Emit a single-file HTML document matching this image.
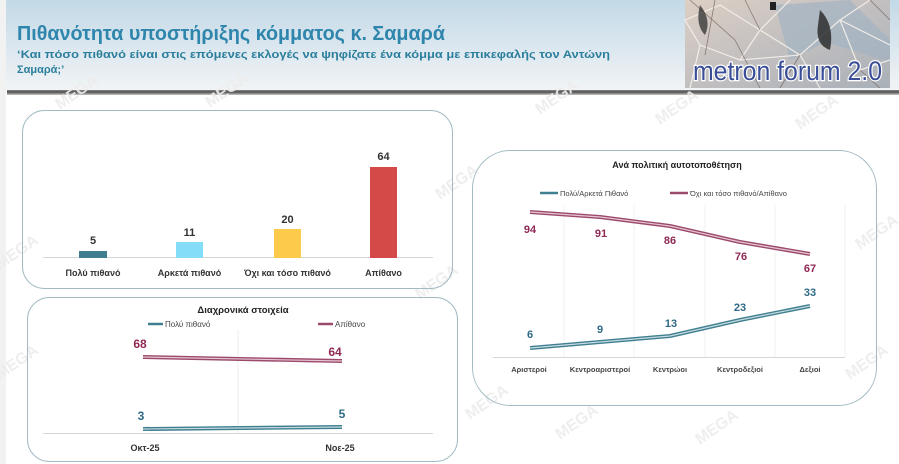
<!DOCTYPE html>
<html><head><meta charset="utf-8"><style>
html,body{margin:0;padding:0;background:#fff;}
svg{display:block;}
text{font-family:"Liberation Sans","DejaVu Sans",sans-serif;}
</style></head><body>
<svg width="899" height="464" viewBox="0 0 899 464" xmlns="http://www.w3.org/2000/svg">
<defs>
<linearGradient id="hdr" x1="0" y1="0" x2="0" y2="1">
<stop offset="0" stop-color="#c3d9e7"/>
<stop offset="0.6" stop-color="#dfe9f0"/>
<stop offset="1" stop-color="#f1f4f6"/>
</linearGradient>
<linearGradient id="logo" x1="0" y1="0" x2="1" y2="1">
<stop offset="0" stop-color="#dccfc4"/>
<stop offset="0.5" stop-color="#c2bfc0"/>
<stop offset="1" stop-color="#a9b0b8"/>
</linearGradient>
<linearGradient id="sep" x1="0" y1="0" x2="0" y2="1">
<stop offset="0" stop-color="#8a8a8a"/>
<stop offset="0.4" stop-color="#505050"/>
<stop offset="1" stop-color="#c8c8c8"/>
</linearGradient>
</defs>
<rect x="0" y="0" width="899" height="464" fill="#fff"/>
<!-- header -->
<rect x="0" y="0" width="899" height="91" fill="url(#hdr)"/>
<rect x="0" y="0" width="6" height="464" fill="#f2f2f2"/>
<text x="17" y="40" font-size="20" font-weight="bold" fill="#2f86ad" textLength="428" lengthAdjust="spacingAndGlyphs">Πιθανότητα υποστήριξης κόμματος κ. Σαμαρά</text>
<text x="17" y="58" font-size="11" font-weight="bold" fill="#2b7f9c" textLength="593" lengthAdjust="spacingAndGlyphs">‘Και πόσο πιθανό είναι στις επόμενες εκλογές να ψηφίζατε ένα κόμμα με επικεφαλής τον Αντώνη</text>
<text x="17" y="73" font-size="11" font-weight="bold" fill="#2b7f9c">Σαμαρά;’</text>
<!-- logo -->
<rect x="685" y="0" width="205" height="88" fill="url(#logo)"/>
<path d="M775 5 L850 0 L890 40 L890 62 L825 42 L790 60 Z" fill="#a3b3c2" opacity="0.7"/>
<g stroke="#f6f1ea" stroke-width="1.2" fill="none" opacity="0.9">
<path d="M685 20 L720 5 L760 30 L740 60 L700 45 Z"/>
<path d="M760 30 L790 0 M760 30 L800 55 L840 20 L890 45"/>
<path d="M740 60 L800 55 L820 88 M700 45 L690 88"/>
<path d="M840 20 L870 0 M840 20 L860 70 L890 60"/>
</g>
<g stroke="#6a5a50" stroke-width="0.8" fill="none" opacity="0.7">
<path d="M690 0 L735 40 L760 88 M715 0 L705 55 M745 0 L760 30"/>
<path d="M800 55 L780 88 M860 70 L880 88 M870 0 L890 20"/>
</g>
<path d="M700 5 Q712 20 705 35 Q695 25 700 5Z" fill="#3a3a3a" opacity="0.8"/>
<path d="M820 10 Q835 25 830 50 Q815 45 818 25Z" fill="#2e2e2e" opacity="0.85"/>
<rect x="770" y="2" width="6" height="8" fill="#222"/>
<text x="693" y="80" font-size="27" fill="#3a4e98" stroke="#ffffff" stroke-width="2.5" paint-order="stroke" textLength="189" lengthAdjust="spacingAndGlyphs">metron forum 2.0</text>
<!-- separator -->
<rect x="7" y="90" width="892" height="5" fill="url(#sep)"/>
<!-- watermarks -->
<g font-size="16" font-weight="bold" fill="#ececec" opacity="0.9">
<text transform="translate(60,110) rotate(-35)">MEGA</text>
<text transform="translate(210,108) rotate(-35)">MEGA</text>
<text transform="translate(540,115) rotate(-35)">MEGA</text>
<text transform="translate(660,125) rotate(-35)">MEGA</text>
<text transform="translate(800,130) rotate(-35)">MEGA</text>
<text transform="translate(860,250) rotate(-35)">MEGA</text>
<text transform="translate(850,380) rotate(-35)">MEGA</text>
<text transform="translate(420,300) rotate(-35)">MEGA</text>
<text transform="translate(440,200) rotate(-35)">MEGA</text>
<text transform="translate(560,440) rotate(-35)">MEGA</text>
<text transform="translate(700,445) rotate(-35)">MEGA</text>
<text transform="translate(0,270) rotate(-35)">MEGA</text>
<text transform="translate(0,380) rotate(-35)">MEGA</text>
<text transform="translate(470,420) rotate(-35)">MEGA</text>
</g>
<!-- box 1 -->
<rect x="22.5" y="110.5" width="430" height="178" rx="22" fill="none" stroke="#a2bac3" stroke-width="1"/>
<line x1="43" y1="257.5" x2="433" y2="257.5" stroke="#d6d6d6" stroke-width="1"/>
<rect x="79" y="251" width="28" height="7" fill="#3f7e8e"/>
<rect x="176" y="242" width="27" height="16" fill="#83dcf8"/>
<rect x="274" y="229" width="27" height="29" fill="#fdca4b"/>
<rect x="370" y="167" width="27" height="91" fill="#d44a48"/>
<g font-size="11" font-weight="bold" fill="#333" text-anchor="middle">
<text x="93" y="244">5</text>
<text x="189.5" y="236">11</text>
<text x="287.5" y="223">20</text>
<text x="383.5" y="160">64</text>
</g>
<g font-size="9" font-weight="bold" fill="#333" text-anchor="middle">
<text x="93" y="276">Πολύ πιθανό</text>
<text x="189.5" y="276">Αρκετά πιθανό</text>
<text x="287.5" y="276">Όχι και τόσο πιθανό</text>
<text x="383.5" y="276">Απίθανο</text>
</g>
<!-- box 2 -->
<rect x="27.5" y="297.5" width="430" height="164" rx="22" fill="none" stroke="#a2bac3" stroke-width="1"/>
<text x="243" y="313" font-size="9.5" font-weight="bold" fill="#222" text-anchor="middle">Διαχρονικά στοιχεία</text>
<line x1="148" y1="324" x2="163" y2="324" stroke="#3f7f90" stroke-width="2.5"/>
<text x="165" y="327" font-size="8" fill="#444">Πολύ πιθανό</text>
<line x1="318" y1="324" x2="333" y2="324" stroke="#9c4a6b" stroke-width="2.5"/>
<text x="335" y="327" font-size="8" fill="#444">Απίθανο</text>
<line x1="238" y1="330" x2="238" y2="433" stroke="#eeeeee" stroke-width="1"/>
<line x1="43" y1="433.5" x2="433" y2="433.5" stroke="#d6d6d6" stroke-width="1"/>
<line x1="143" y1="357" x2="342" y2="361" stroke="#9c4a6b" stroke-width="4"/>
<line x1="143" y1="357" x2="342" y2="361" stroke="#e6c6d2" stroke-width="1.2"/>
<line x1="143" y1="429" x2="342" y2="427" stroke="#3f7f90" stroke-width="4"/>
<line x1="143" y1="429" x2="342" y2="427" stroke="#c6dbe0" stroke-width="1.2"/>
<g font-size="12" font-weight="bold" text-anchor="middle">
<text x="140" y="348" fill="#8e2a55">68</text>
<text x="335" y="356" fill="#8e2a55">64</text>
<text x="141" y="420" fill="#2f6a86">3</text>
<text x="342" y="418" fill="#2f6a86">5</text>
</g>
<g font-size="9" font-weight="bold" fill="#333" text-anchor="middle">
<text x="145" y="451">Οκτ-25</text>
<text x="340" y="451">Νοε-25</text>
</g>
<!-- box 3 -->
<rect x="472.5" y="150.5" width="404" height="255" rx="38" fill="none" stroke="#a2bac3" stroke-width="1"/>
<text x="677" y="168" font-size="9" font-weight="bold" fill="#222" text-anchor="middle">Ανά πολιτική αυτοτοποθέτηση</text>
<line x1="540" y1="193" x2="558" y2="193" stroke="#3f7f90" stroke-width="2.5"/>
<text x="560" y="196" font-size="7.5" fill="#444">Πολύ/Αρκετά Πιθανό</text>
<line x1="670" y1="193" x2="688" y2="193" stroke="#9c4a6b" stroke-width="2.5"/>
<text x="690" y="196" font-size="7.5" fill="#444">Όχι και τόσο πιθανό/Απίθανο</text>
<g stroke="#f0f0f0" stroke-width="1">
<line x1="564" y1="205" x2="564" y2="357"/>
<line x1="634" y1="205" x2="634" y2="357"/>
<line x1="705" y1="205" x2="705" y2="357"/>
<line x1="775" y1="205" x2="775" y2="357"/>
<line x1="845" y1="205" x2="845" y2="357"/>
</g>
<line x1="493" y1="357.5" x2="845" y2="357.5" stroke="#d6d6d6" stroke-width="1"/>
<polyline points="530,212 600,217 670,226 740,242 810,254" fill="none" stroke="#9c4a6b" stroke-width="4" stroke-linejoin="round"/>
<polyline points="530,212 600,217 670,226 740,242 810,254" fill="none" stroke="#e6c6d2" stroke-width="1.2" stroke-linejoin="round"/>
<polyline points="530,348 600,342 670,336 740,320 810,306" fill="none" stroke="#3f7f90" stroke-width="4" stroke-linejoin="round"/>
<polyline points="530,348 600,342 670,336 740,320 810,306" fill="none" stroke="#c6dbe0" stroke-width="1.2" stroke-linejoin="round"/>
<g font-size="11" font-weight="bold" text-anchor="middle" fill="#8e2a55">
<text x="530" y="233">94</text>
<text x="601" y="237">91</text>
<text x="670" y="244">86</text>
<text x="741" y="260">76</text>
<text x="810" y="272">67</text>
</g>
<g font-size="11" font-weight="bold" text-anchor="middle" fill="#2f6a86">
<text x="530" y="338">6</text>
<text x="600" y="333">9</text>
<text x="671" y="327">13</text>
<text x="740" y="311">23</text>
<text x="810" y="296">33</text>
</g>
<g font-size="7.5" font-weight="bold" fill="#444" text-anchor="middle">
<text x="529" y="372">Αριστεροί</text>
<text x="600" y="372">Κεντροαριστεροί</text>
<text x="670" y="372">Κεντρώοι</text>
<text x="740" y="372">Κεντροδεξιοί</text>
<text x="810" y="372">Δεξιοί</text>
</g>
</svg>
</body></html>
